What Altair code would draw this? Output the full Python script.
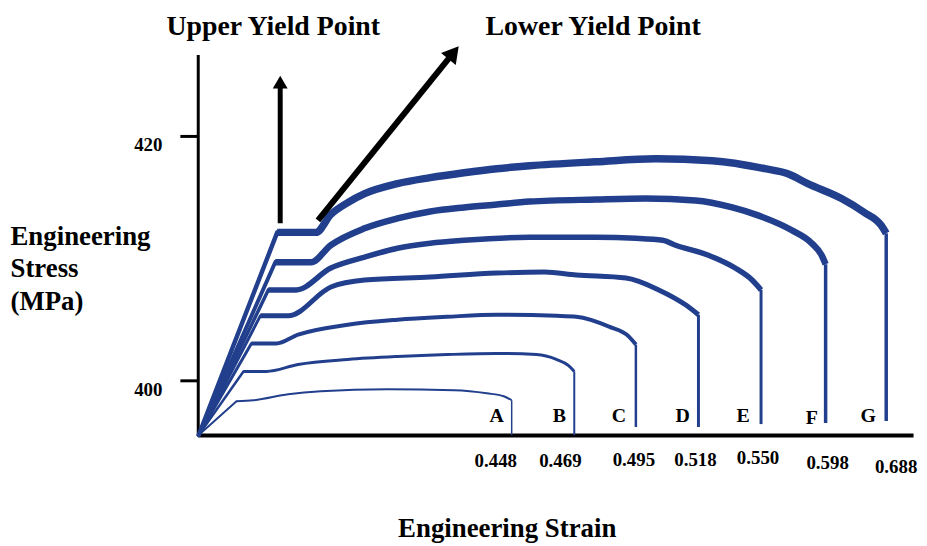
import altair as alt
import pandas as pd

BLUE = "#213f8c"
FONT = "Liberation Serif"

# ---- data -----------------------------------------------------------------
# x: schematic strain position (plot units, origin = 0), y: engineering stress (MPa)
curve_names = ["A", "B", "C", "D", "E", "F", "G"]

a_x = [1, 39, 56, 91, 124, 191, 258, 291, 308, 316]
a_y = [395.53, 398.29, 398.37, 398.86, 399.11, 399.27, 399.19, 398.94, 398.70, 398.37]

b_x = [1, 46, 69, 101, 151, 201, 251, 301, 341, 361, 373, 379]
b_y = [395.53, 400.73, 400.73, 401.30, 401.71, 401.95, 402.11, 402.20, 402.11, 401.71, 401.22, 400.73]

c_x = [1, 54, 79, 101, 151, 201, 251, 301, 361, 381, 414, 434, 441]
c_y = [395.53, 403.01, 403.01, 403.74, 404.55, 404.96, 405.20, 405.37, 405.28, 405.20, 404.39, 403.58, 402.93]

d_x = [1, 63, 91, 134, 168, 234, 301, 349, 381, 431, 464, 491, 504]
d_y = [395.53, 405.28, 405.28, 407.64, 408.21, 408.46, 408.78, 408.86, 408.62, 408.37, 407.40, 406.18, 405.37]

e_x = [1, 71, 99, 134, 168, 201, 234, 268, 334, 401, 441, 468, 481, 514, 541, 558, 567]
e_y = [395.53, 407.40, 407.40, 409.19, 410.08, 410.81, 411.22, 411.46, 411.71, 411.71, 411.63, 411.46,
       411.06, 410.24, 409.19, 408.21, 407.40]

f_x = [1, 78, 114, 134, 168, 201, 234, 268, 301, 334, 401, 451, 501, 538, 564, 598, 618, 628, 632]
f_y = [395.53, 409.67, 409.67, 411.06, 412.44, 413.25, 413.82, 414.15, 414.39, 414.63, 414.80, 414.88,
       414.72, 414.15, 413.50, 412.28, 411.22, 410.24, 409.51]

g_x = [1, 80, 119, 134, 151, 168, 201, 234, 268, 301, 334, 401, 461, 518, 571, 594, 614, 648, 671, 688, 693]
g_y = [395.53, 412.11, 412.11, 413.58, 414.55, 415.28, 416.10, 416.59, 416.99, 417.32, 417.56, 417.89,
       418.13, 417.97, 417.32, 416.91, 416.10, 414.88, 413.74, 412.68, 412.03]

curve_xs = [a_x, b_x, c_x, d_x, e_x, f_x, g_x]
curve_ys = [a_y, b_y, c_y, d_y, e_y, f_y, g_y]
curve_widths = [2, 3, 4, 5, 5.5, 6.5, 7.5]
elastic_widths = [2, 2.5, 3, 3, 3.5, 4, 4.5]

# vertical drop at fracture
drop_bottom = [395.53, 395.53, 396.18, 396.18, 396.42, 396.50, 396.67]
drop_widths = [1.5, 2, 2.5, 3, 3, 3.5, 3.5]

# curve letters
letter_x = [301, 364, 424, 488, 549, 618, 675]
letter_y = [397.07, 397.07, 397.07, 397.07, 397.07, 396.91, 397.07]

# fracture strain labels
strain_labels = ["0.448", "0.469", "0.495", "0.518", "0.550", "0.598", "0.688"]
strain_label_x = [300, 365, 439, 501, 564, 634, 703]
strain_label_y = [393.41, 393.41, 393.50, 393.50, 393.66, 393.25, 392.93]

# yield point annotations
yield_labels = ["Upper Yield Point", "Lower Yield Point"]
yield_label_x = [76, 398]
yield_label_y = [428.29, 428.29]

arrow_x = [83, 121]
arrow_y = [412.85, 413.09]
arrow_x2 = [83, 256]
arrow_y2 = [424.31, 426.67]
arrow_w = [5, 6]
head_x = [83, 257.5]
head_y = [424.41, 426.82]
head_angle = [0, 39]
head_size = [225, 361]

X_DOMAIN = [0, 720]
Y_DOMAIN = [395.53, 426.67]

# ---- tables --------------------------------------------------------------
rows = []
elastic_rows = []
for name, xs, ys, w, ew in zip(curve_names, curve_xs, curve_ys, curve_widths, elastic_widths):
    for i, (xv, yv) in enumerate(zip(xs, ys)):
        if i >= 1:
            rows.append({"curve": name, "order": i, "x": xv, "y": yv, "w": w})
        if i <= 1:
            elastic_rows.append({"curve": name, "order": i, "x": xv, "y": yv, "w": ew})
curves_df = pd.DataFrame(rows)
elastic_df = pd.DataFrame(elastic_rows)

drops_df = pd.DataFrame({
    "curve": curve_names,
    "x": [xs[-1] for xs in curve_xs],
    "y": [ys[-1] for ys in curve_ys],
    "y2": drop_bottom,
    "w": drop_widths,
})

letters_df = pd.DataFrame({"t": curve_names, "x": letter_x, "y": letter_y})
strain_df = pd.DataFrame({"t": strain_labels, "x": strain_label_x, "y": strain_label_y})
yield_df = pd.DataFrame({"t": yield_labels, "x": yield_label_x, "y": yield_label_y})
arrows_df = pd.DataFrame({"x": arrow_x, "y": arrow_y, "x2": arrow_x2, "y2": arrow_y2, "w": arrow_w})
heads_df = pd.DataFrame({"x": head_x, "y": head_y, "a": head_angle, "s": head_size})

xscale = alt.Scale(domain=X_DOMAIN, nice=False, zero=False)
yscale = alt.Scale(domain=Y_DOMAIN, nice=False, zero=False)

x_axis = alt.Axis(
    labels=False, ticks=False, grid=False,
    domainColor="black", domainWidth=4,
    title="Engineering Strain", titleFont=FONT, titleFontSize=27, titleFontWeight="bold",
    titleColor="black", titleX=311, titleY=102, titleAlign="center", titleBaseline="alphabetic",
)
y_axis = alt.Axis(
    values=[400, 420], format="d", grid=False,
    domainColor="black", domainWidth=3,
    tickColor="black", tickWidth=3, tickSize=18,
    labelFont=FONT, labelFontSize=19, labelFontWeight="bold", labelColor="black",
    labelBaseline="top", labelPadding=18,
    title=["Engineering", "Stress", "(MPa)"], titleFont=FONT, titleFontSize=27,
    titleFontWeight="bold", titleColor="black", titleAngle=0, titleAlign="left",
    titleBaseline="alphabetic", titleX=-189, titleY=191, titleLineHeight=33,
)


def X(field="x"):
    return alt.X(f"{field}:Q", scale=xscale, axis=x_axis)


def Y(field="y"):
    return alt.Y(f"{field}:Q", scale=yscale, axis=y_axis)


elastic = alt.Chart(elastic_df).mark_line(color=BLUE, strokeCap="round").encode(
    x=X(), y=Y(),
    detail="curve:N",
    order="order:Q",
    strokeWidth=alt.StrokeWidth("w:Q", scale=None),
)

lines = alt.Chart(curves_df).mark_line(
    color=BLUE, strokeJoin="round", strokeCap="butt", interpolate="monotone"
).encode(
    x=X(), y=Y(),
    detail="curve:N",
    order="order:Q",
    strokeWidth=alt.StrokeWidth("w:Q", scale=None),
)

drops = alt.Chart(drops_df).mark_rule(color=BLUE).encode(
    x=X(), y=Y(), y2="y2:Q",
    strokeWidth=alt.StrokeWidth("w:Q", scale=None),
)

arrows = alt.Chart(arrows_df).mark_rule(color="black").encode(
    x=X(), y=Y(), x2="x2:Q", y2="y2:Q",
    strokeWidth=alt.StrokeWidth("w:Q", scale=None),
)

heads = alt.Chart(heads_df).mark_point(shape="triangle-up", filled=True, color="black", opacity=1).encode(
    x=X(), y=Y(),
    angle=alt.Angle("a:Q", scale=None),
    size=alt.Size("s:Q", scale=None),
)

letters = alt.Chart(letters_df).mark_text(
    font=FONT, fontSize=20, fontWeight="bold", color="black", align="center", baseline="middle"
).encode(x=X(), y=Y(), text="t:N")

strains = alt.Chart(strain_df).mark_text(
    font=FONT, fontSize=19, fontWeight="bold", color="black", align="center", baseline="middle"
).encode(x=X(), y=Y(), text="t:N")

yield_text = alt.Chart(yield_df).mark_text(
    font=FONT, fontSize=28, fontWeight="bold", color="black", align="center", baseline="alphabetic"
).encode(x=X(), y=Y(), text="t:N")

chart = alt.layer(elastic, lines, drops, arrows, heads, letters, strains, yield_text).properties(
    width=720,
    height=383,
    autosize=alt.AutoSizeParams(type="none"),
    padding={"left": 191, "top": 45, "right": 6, "bottom": 110},
    background="white",
).configure_view(strokeWidth=0)

chart.save("out.html", embed_options={"renderer": "svg", "actions": False})
